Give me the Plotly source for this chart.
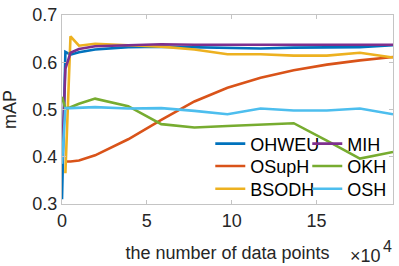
import plotly.graph_objects as go

x = [0, 0.2, 0.5, 1, 1.95, 3.9, 5.85, 7.8, 9.75, 11.7, 13.65, 15.6, 17.55, 19.5]

ohweu = [0.31, 0.622, 0.616, 0.621, 0.627, 0.632, 0.633, 0.632, 0.631, 0.629, 0.631, 0.631, 0.632, 0.636]
osuph = [None, 0.39, 0.39, 0.392, 0.403, 0.437, 0.478, 0.517, 0.546, 0.567, 0.583, 0.595, 0.604, 0.611]
bsodh = [None, 0.365, 0.655, 0.635, 0.639, 0.636, 0.633, 0.627, 0.617, 0.617, 0.614, 0.614, 0.62, 0.61]
mih = [0.39, 0.586, 0.62, 0.628, 0.634, 0.636, 0.638, 0.637, 0.637, 0.637, 0.638, 0.638, 0.638, 0.637]
okh = [0.527, 0.502, 0.505, 0.512, 0.523, 0.507, 0.469, 0.462, 0.465, 0.468, 0.471, 0.434, 0.396, 0.41]
osh = [0.385, 0.503, 0.503, 0.504, 0.505, 0.502, 0.503, 0.497, 0.49, 0.502, 0.498, 0.498, 0.502, 0.49]

# legend slot: (column x in paper, row top y in paper)
COLS = [0.448, 0.741]
ROWS = [0.416, 0.297, 0.177]
series = [
    ("OHWEU", ohweu, "#0072BD", 0, 0),
    ("OSupH", osuph, "#D95319", 0, 1),
    ("BSODH", bsodh, "#EDB120", 0, 2),
    ("MIH", mih, "#7E2F8E", 1, 0),
    ("OKH", okh, "#77AC30", 1, 1),
    ("OSH", osh, "#4DBEEE", 1, 2),
]

FONT = "Liberation Sans, Arial, Helvetica, sans-serif"
fig = go.Figure()
legends = {}
for i, (name, y, c, col, row) in enumerate(series):
    key = "legend" if i == 0 else f"legend{i + 1}"
    fig.add_trace(go.Scatter(x=x, y=y, mode="lines", name=name,
                             line=dict(color=c, width=2.6), legend=key))
    legends[key] = dict(x=COLS[col], y=ROWS[row], xanchor="left", yanchor="top",
                        orientation="v", bgcolor="rgba(0,0,0,0)", itemwidth=30,
                        font=dict(size=18, color="#000000", family=FONT))

axis_common = dict(showgrid=False, zeroline=False, showline=True, linecolor="#c4c4c4",
                   linewidth=1, mirror="ticks", ticks="inside", ticklen=4,
                   tickcolor="#c4c4c4", tickfont=dict(size=18, color="#262626", family=FONT))

fig.update_layout(
    width=399, height=266,
    margin=dict(l=62, r=5, t=12, b=62),
    plot_bgcolor="white", paper_bgcolor="white",
    font=dict(family=FONT, size=18, color="#262626"),
    showlegend=True,
    xaxis=dict(range=[0, 19.5], tickvals=[0, 5, 10, 15], **axis_common,
               title=dict(text="the number of data points", standoff=16,
                          font=dict(size=18, color="#262626"))),
    yaxis=dict(range=[0.3, 0.7], tickvals=[0.3, 0.4, 0.5, 0.6, 0.7],
               tickformat=".1f", **axis_common,
               title=dict(text="mAP", standoff=12, font=dict(size=18, color="#262626"))),
    **legends,
)

fig.add_annotation(text="×10", xref="paper", yref="paper", x=0.916, y=-0.276,
                   xanchor="center", yanchor="middle", showarrow=False,
                   font=dict(size=18, color="#262626", family=FONT))
fig.add_annotation(text="4", xref="paper", yref="paper", x=0.983, y=-0.224,
                   xanchor="center", yanchor="middle", showarrow=False,
                   font=dict(size=16, color="#262626", family=FONT))

# remove the browser's default 8px body margin so the figure fills the window
fig.write_html("out.html", config={"displayModeBar": False},
               post_script="document.body.style.margin='0';")
